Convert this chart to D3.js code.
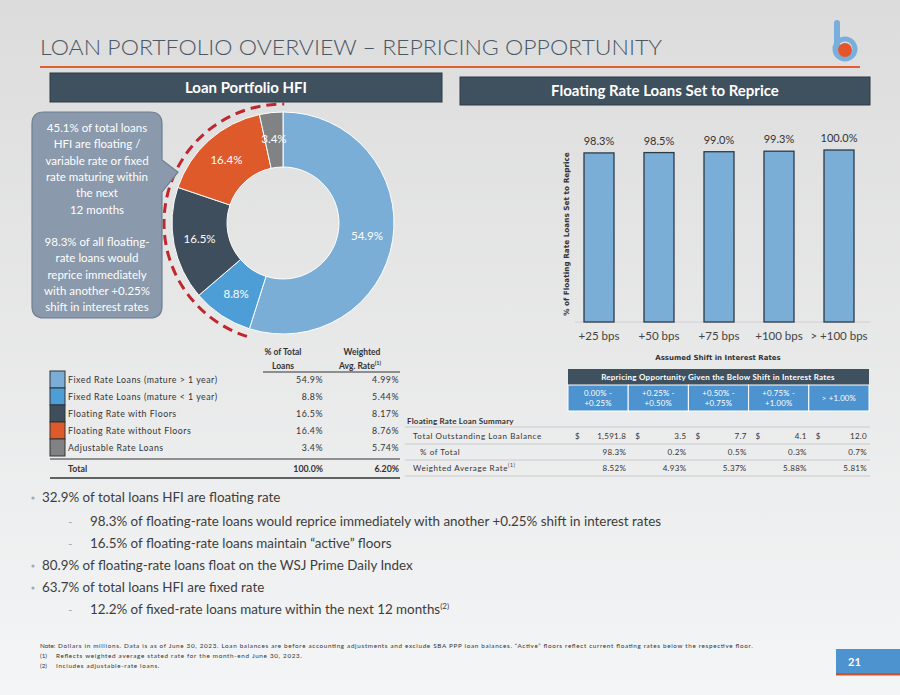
<!DOCTYPE html>
<html><head><meta charset="utf-8">
<script src="https://cdn.jsdelivr.net/npm/d3@7"></script>
<style>
html,body{margin:0;padding:0;background:#e8e8e8;}
svg{display:block;}
text{font-family:Lato,"Open Sans",sans-serif;}
text.tb{font-family:"DejaVu Sans",sans-serif;}
</style></head>
<body>
<svg id="c" width="900" height="695"></svg>
<script>
// ---------- DATA ----------
const loanCategories = ["Fixed Rate Loans (mature > 1 year)","Fixed Rate Loans (mature < 1 year)","Floating Rate with Floors","Floating Rate without Floors","Adjustable Rate Loans"];
const loanShares = [54.9, 8.8, 16.5, 16.4, 3.4];
const loanRates = [4.99, 5.44, 8.17, 8.76, 5.74];
const totalShare = 100.0;
const totalRate = 6.20;
const loanColors = ["#7aaed6","#4d9dd6","#3e4e5d","#df5a2b","#808284"];

const shiftLabels = ["+25 bps","+50 bps","+75 bps","+100 bps","> +100 bps"];
const repriceShares = [98.3, 98.5, 99.0, 99.3, 100.0];

const bucketLabels = [["0.00% -","+0.25%"],["+0.25% -","+0.50%"],["+0.50% -","+0.75%"],["+0.75% -","+1.00%"],["> +1.00%"]];
const balances = [1591.8, 3.5, 7.7, 4.1, 12.0];
const pctOfTotal = [98.3, 0.2, 0.5, 0.3, 0.7];
const wavgRates = [8.52, 4.93, 5.37, 5.88, 5.81];

const calloutLines = ["45.1% of total loans","HFI are floating /","variable rate or fixed","rate maturing within","the next","12 months","","98.3% of all floating-","rate loans would","reprice immediately","with another +0.25%","shift in interest rates"];

const bullets = [
  {lvl:0, t:"32.9% of total loans HFI are floating rate"},
  {lvl:1, t:"98.3% of floating-rate loans would reprice immediately with another +0.25% shift in interest rates"},
  {lvl:1, t:"16.5% of floating-rate loans maintain \u201cactive\u201d floors"},
  {lvl:0, t:"80.9% of floating-rate loans float on the WSJ Prime Daily Index"},
  {lvl:0, t:"63.7% of total loans HFI are fixed rate"},
  {lvl:1, t:"12.2% of fixed-rate loans mature within the next 12 months", sup:"(2)"}
];
const footnotes = [
  ["Note:", "Dollars in millions. Data is as of June 30, 2023. Loan balances are before accounting adjustments and exclude SBA PPP loan balances. \u201cActive\u201d floors reflect current floating rates below the respective floor."],
  ["(1)", "Reflects weighted average stated rate for the month-end June 30, 2023."],
  ["(2)", "Includes adjustable-rate loans."]
];

// ---------- DRAW ----------
const svg = d3.select("#c");
const defs = svg.append("defs");
const bg = defs.append("linearGradient").attr("id","bg").attr("x1",0).attr("y1",0).attr("x2",0).attr("y2",1);
bg.append("stop").attr("offset","0%").attr("stop-color","#dcdcdc");
bg.append("stop").attr("offset","100%").attr("stop-color","#f4f5f6");
svg.append("rect").attr("width",900).attr("height",695).attr("fill","url(#bg)");

// Title
svg.append("text").attr("x",40).attr("y",55).attr("font-size",22).attr("font-weight",300)
  .attr("fill","#4a5866").attr("textLength",622).attr("lengthAdjust","spacingAndGlyphs")
  .text("LOAN PORTFOLIO OVERVIEW \u2013 REPRICING OPPORTUNITY");
svg.append("line").attr("x1",40).attr("x2",860).attr("y1",67).attr("y2",67).attr("stroke","#e0602f").attr("stroke-width",2);

// Logo
const logo = svg.append("g");
logo.append("line").attr("x1",837).attr("x2",837).attr("y1",23).attr("y2",48).attr("stroke","#7aaedc").attr("stroke-width",6).attr("stroke-linecap","round");
logo.append("circle").attr("cx",845).attr("cy",49).attr("r",10).attr("fill","none").attr("stroke","#7aaedc").attr("stroke-width",5);
logo.append("circle").attr("cx",845).attr("cy",50).attr("r",7).attr("fill","#e4552a");

// Section headers
function header(x,y,w,h,t){
  svg.append("rect").attr("x",x).attr("y",y).attr("width",w).attr("height",h).attr("fill","#3f505e").attr("stroke","#2c3a45").attr("stroke-width",1);
  svg.append("text").attr("x",x+w/2).attr("y",y+h/2+5).attr("text-anchor","middle").attr("fill","#fff")
    .attr("font-size",15).attr("font-weight",700).text(t);
}
header(50,73,392,29,"Loan Portfolio HFI");
header(460,77,410,28,"Floating Rate Loans Set to Reprice");

// Donut
const cx=283, cy=223;
const pie = d3.pie().sort(null).value(d=>d);
const arcs = pie(loanShares);
const arc = d3.arc().innerRadius(56).outerRadius(111);
const labelArc = d3.arc().innerRadius(85).outerRadius(85);
const dg = svg.append("g").attr("transform",`translate(${cx},${cy})`);
dg.selectAll("path.s").data(arcs).join("path").attr("class","s").attr("d",arc)
  .attr("fill",(d,i)=>loanColors[i]).attr("stroke","#fff").attr("stroke-width",1);
dg.selectAll("text").data(arcs).join("text")
  .attr("transform",d=>`translate(${labelArc.centroid(d)})`)
  .attr("text-anchor","middle").attr("dy","0.35em").attr("fill","#fff").attr("font-size",11.5)
  .text(d=>d.value.toFixed(1)+"%");
// dashed arc around floating / maturing loans (open path)
const dashStart = arcs[1].startAngle;
const dp = d3.path();
dp.arc(0,0,119, dashStart-Math.PI/2, 2*Math.PI-Math.PI/2+0.01);
dg.append("path").attr("d", dp.toString())
  .attr("fill","none").attr("stroke","#c0262d").attr("stroke-width",3).attr("stroke-dasharray","10,6");

// Callout
const cb = svg.append("g");
cb.append("path").attr("d","M44,112 H150 Q162,112 162,124 V160 L178,172 L162,192 V306 Q162,318 150,318 H44 Q32,318 32,306 V124 Q32,112 44,112 Z")
  .attr("fill","#8a99ab").attr("stroke","#6d7f92").attr("stroke-width",1.2);
cb.selectAll("text").data(calloutLines).join("text")
  .attr("x",97).attr("y",(d,i)=>132+i*16.3).attr("text-anchor","middle").attr("fill","#fff").attr("font-size",11.5)
  .text(d=>d);

// Bar chart
const xb = d3.scaleBand().domain(shiftLabels).range([569,869]).paddingInner(0.5).paddingOuter(0.25);
const yb = d3.scaleLinear().domain([0,100]).range([322,150]);
const bc = svg.append("g");
bc.append("line").attr("x1",575).attr("x2",870).attr("y1",yb(0)).attr("y2",yb(0)).attr("stroke","#cfd0d2").attr("stroke-width",1);
bc.selectAll("rect").data(repriceShares).join("rect")
  .attr("x",(d,i)=>xb(shiftLabels[i])).attr("width",xb.bandwidth())
  .attr("y",d=>yb(d)).attr("height",d=>yb(0)-yb(d))
  .attr("fill","#7aaed6").attr("stroke","#2d3b47").attr("stroke-width",1.3);
bc.selectAll("text.v").data(repriceShares).join("text").attr("class","v")
  .attr("x",(d,i)=>xb(shiftLabels[i])+xb.bandwidth()/2).attr("y",d=>yb(d)-8)
  .attr("text-anchor","middle").attr("font-size",11).attr("fill","#333").text(d=>d.toFixed(1)+"%");
const xAxis = bc.append("g").attr("transform",`translate(0,${yb(0)})`).call(d3.axisBottom(xb).tickSize(0).tickPadding(10));
xAxis.select(".domain").remove();
xAxis.selectAll("text").attr("font-size",11.5).attr("fill","#444").attr("font-family","Lato,sans-serif");
bc.append("text").attr("class","tb").attr("x",718).attr("y",360).attr("text-anchor","middle").attr("font-size",7.0).attr("font-weight",700).attr("fill","#333")
  .text("Assumed Shift in Interest Rates");
bc.append("text").attr("class","tb").attr("transform","translate(569,234) rotate(-90)").attr("text-anchor","middle").attr("font-size",7.3).attr("font-weight",700).attr("fill","#333")
  .text("% of Floating Rate Loans Set to Reprice");

// Legend table
const lt = svg.append("g");
const rowY = [380,397,414,431,448];
const FS = 8.8, LS = 0.5;
lt.append("text").attr("x",283).attr("y",355).attr("text-anchor","middle").attr("font-size",8.5).attr("font-weight",700).attr("fill","#333").text("% of Total");
lt.append("text").attr("x",283).attr("y",369).attr("text-anchor","middle").attr("font-size",8.5).attr("font-weight",700).attr("fill","#333").text("Loans");
lt.append("text").attr("x",362).attr("y",355).attr("text-anchor","middle").attr("font-size",8.5).attr("font-weight",700).attr("fill","#333").text("Weighted");
const ar = lt.append("text").attr("x",360).attr("y",369).attr("text-anchor","middle").attr("font-size",8.5).attr("font-weight",700).attr("fill","#333");
ar.append("tspan").text("Avg. Rate");
ar.append("tspan").attr("font-size",5.5).attr("dy",-4).text("(1)");
lt.append("line").attr("x1",263).attr("x2",400).attr("y1",372).attr("y2",372).attr("stroke","#333").attr("stroke-width",1);
lt.selectAll("rect").data(loanCategories).join("rect")
  .attr("x",50).attr("y",(d,i)=>rowY[i]-9).attr("width",15).attr("height",17)
  .attr("fill",(d,i)=>loanColors[i]).attr("stroke","#333").attr("stroke-width",1);
lt.selectAll("text.n").data(loanCategories).join("text").attr("class","n")
  .attr("x",68).attr("y",(d,i)=>rowY[i]+3).attr("font-size",FS).attr("letter-spacing",LS).attr("fill","#333").text(d=>d);
lt.selectAll("text.p").data(loanShares).join("text").attr("class","p")
  .attr("x",323).attr("y",(d,i)=>rowY[i]+3).attr("text-anchor","end").attr("font-size",FS).attr("letter-spacing",LS).attr("fill","#333").text(d=>d.toFixed(1)+"%");
lt.selectAll("text.r").data(loanRates).join("text").attr("class","r")
  .attr("x",399).attr("y",(d,i)=>rowY[i]+3).attr("text-anchor","end").attr("font-size",FS).attr("letter-spacing",LS).attr("fill","#333").text(d=>d.toFixed(2)+"%");
lt.append("line").attr("x1",50).attr("x2",400).attr("y1",459).attr("y2",459).attr("stroke","#333").attr("stroke-width",1);
lt.append("line").attr("x1",50).attr("x2",400).attr("y1",478).attr("y2",478).attr("stroke","#333").attr("stroke-width",1.3);
lt.append("text").attr("x",68).attr("y",472).attr("font-size",FS).attr("font-weight",700).attr("fill","#333").text("Total");
lt.append("text").attr("x",323).attr("y",472).attr("text-anchor","end").attr("font-size",FS).attr("font-weight",700).attr("fill","#333").text(totalShare.toFixed(1)+"%");
lt.append("text").attr("x",399).attr("y",472).attr("text-anchor","end").attr("font-size",FS).attr("font-weight",700).attr("fill","#333").text(totalRate.toFixed(2)+"%");

// Repricing table
const rt = svg.append("g");
const RS = 8, RL = 0.6;
const colX = d3.scaleBand().domain(d3.range(5)).range([568,869]);
rt.append("rect").attr("x",568).attr("y",369).attr("width",301).attr("height",16).attr("fill","#3f505e");
rt.append("text").attr("x",718).attr("y",380).attr("text-anchor","middle").attr("font-size",8).attr("letter-spacing",0.25).attr("font-weight",700).attr("fill","#fff")
  .text("Repricing Opportunity Given the Below Shift in Interest Rates");
rt.selectAll("rect.h").data(bucketLabels).join("rect").attr("class","h")
  .attr("x",(d,i)=>colX(i)).attr("y",385).attr("width",colX.bandwidth()).attr("height",26)
  .attr("fill","#4d93d0").attr("stroke","#fff").attr("stroke-width",1);
rt.selectAll("text.h").data(bucketLabels).join("text").attr("class","h")
  .attr("x",(d,i)=>colX(i)+colX.bandwidth()/2).attr("y",d=>d.length===2?396:401)
  .attr("text-anchor","middle").attr("font-size",7.8).attr("letter-spacing",0.2).attr("fill","#fff")
  .each(function(d){
    const t=d3.select(this);
    d.forEach((s,j)=>t.append("tspan").attr("x",t.attr("x")).attr("dy",j?10:0).text(s));
  });
rt.append("text").attr("x",407).attr("y",424).attr("font-size",RS).attr("letter-spacing",0.2).attr("font-weight",700).attr("fill","#333").text("Floating Rate Loan Summary");
[427,444,460,476].forEach(y=>rt.append("line").attr("x1",405).attr("x2",870).attr("y1",y).attr("y2",y).attr("stroke","#c9cacc").attr("stroke-width",1));
rt.append("text").attr("x",413).attr("y",439).attr("font-size",RS).attr("letter-spacing",RL).attr("fill","#333").text("Total Outstanding Loan Balance");
rt.append("text").attr("x",420).attr("y",455).attr("font-size",RS).attr("letter-spacing",RL).attr("fill","#333").text("% of Total");
const wr = rt.append("text").attr("x",413).attr("y",471).attr("font-size",RS).attr("letter-spacing",RL).attr("fill","#333");
wr.append("tspan").text("Weighted Average Rate");
wr.append("tspan").attr("font-size",5).attr("dy",-4).text("(1)");
const rightEdge = i => colX(i)+colX.bandwidth()-2;
rt.selectAll("text.d").data(balances).join("text").attr("class","d")
  .attr("x",(d,i)=>colX(i)+7).attr("y",439).attr("font-size",RS).attr("fill","#333").text("$");
rt.selectAll("text.b").data(balances).join("text").attr("class","b")
  .attr("x",(d,i)=>rightEdge(i)).attr("y",439).attr("text-anchor","end").attr("font-size",RS).attr("letter-spacing",0.3).attr("fill","#333")
  .text(d=>d3.format(",.1f")(d));
rt.selectAll("text.pc").data(pctOfTotal).join("text").attr("class","pc")
  .attr("x",(d,i)=>rightEdge(i)).attr("y",455).attr("text-anchor","end").attr("font-size",RS).attr("letter-spacing",0.3).attr("fill","#333")
  .text(d=>d.toFixed(1)+"%");
rt.selectAll("text.w").data(wavgRates).join("text").attr("class","w")
  .attr("x",(d,i)=>rightEdge(i)).attr("y",471).attr("text-anchor","end").attr("font-size",RS).attr("letter-spacing",0.3).attr("fill","#333")
  .text(d=>d.toFixed(2)+"%");

// Bullets
const bl = svg.append("g");
const by = [502,526,548,570,592,614];
bullets.forEach((b,i)=>{
  if(b.lvl===0){
    bl.append("circle").attr("cx",33).attr("cy",by[i]-4).attr("r",1.6).attr("fill","#9aabbd");
  } else {
    bl.append("text").attr("x",68).attr("y",by[i]).attr("font-size",12).attr("fill","#9aabbd").text("-");
  }
  const t = bl.append("text").attr("x",b.lvl?90:42).attr("y",by[i]).attr("font-size",13.4).attr("fill","#3d3d3d").text(b.t);
  if(b.sup) t.append("tspan").attr("font-size",8).attr("dy",-5).text(b.sup);
});

// Footnotes
const fn = svg.append("g");
footnotes.forEach((f,i)=>{
  fn.append("text").attr("x",40).attr("y",648+i*10).attr("font-size",6.3).attr("fill","#333").text(f[0]);
  const t = fn.append("text").attr("x",i===0?58:56).attr("y",648+i*10).attr("font-size",6.3).attr("fill","#333").text(f[1]);
  const L = t.node().getComputedTextLength();
  t.attr("textLength", L*1.24).attr("lengthAdjust","spacing");
});

// Page number
svg.append("rect").attr("x",836).attr("y",649).attr("width",64).attr("height",24).attr("fill","#4d93d0");
svg.append("rect").attr("x",836).attr("y",673).attr("width",64).attr("height",2.5).attr("fill","#d0522a");
svg.append("text").attr("x",848).attr("y",666).attr("font-size",11).attr("font-weight",700).attr("fill","#fff").text("21");
</script>
</body></html>
